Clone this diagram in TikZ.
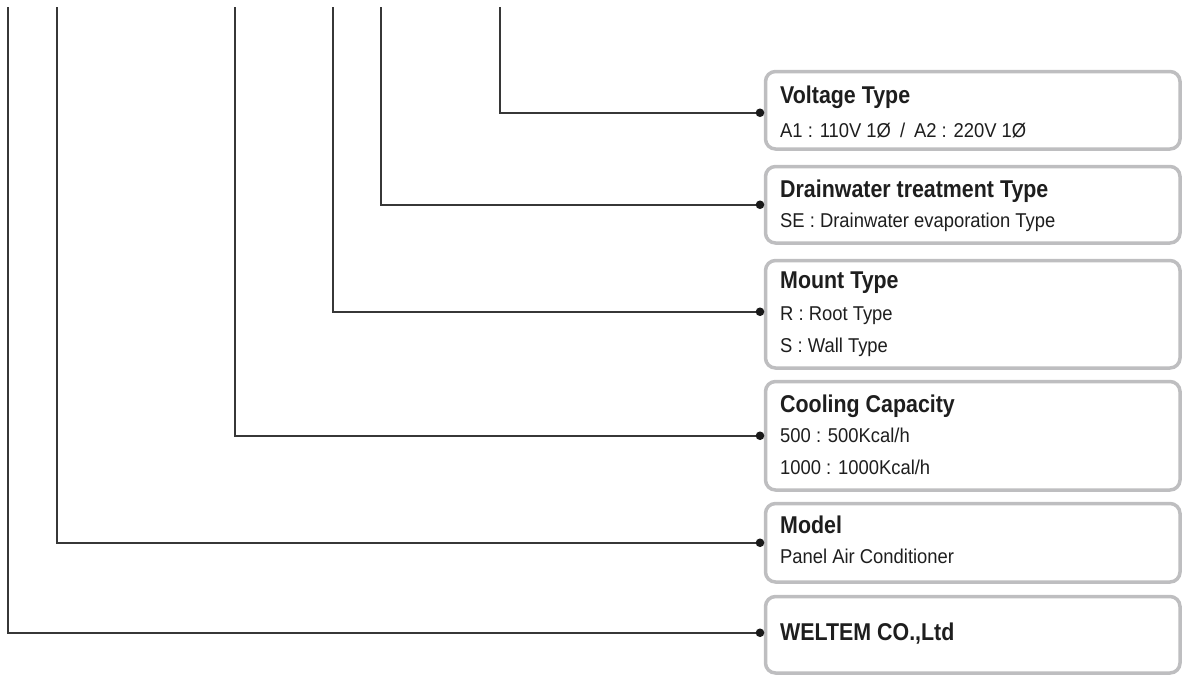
\documentclass[tikz,border=0pt]{standalone}
\usepackage{fontspec}
\setmainfont{Liberation Sans}
\newfontfamily\titlefont[FakeStretch=0.88]{Liberation Sans}
\newfontfamily\subfont[FakeStretch=0.92]{Liberation Sans}
\definecolor{boxgray}{RGB}{190,190,192}
\definecolor{linegray}{RGB}{55,55,55}
\definecolor{txt}{RGB}{30,30,30}
\tikzset{
  box/.style={draw=boxgray, line width=3.5pt, rounded corners=10pt, anchor=north west,
    minimum width=414.5pt, inner sep=0pt, fill=white},
  ttl/.style={anchor=base west, inner sep=0pt, text=txt, font=\titlefont\bfseries\fontsize{24.3}{28}\selectfont},
  sub/.style={anchor=base west, inner sep=0pt, text=txt, font=\subfont\fontsize{20}{24}\selectfont},
  conn/.style={draw=linegray, line width=1.6pt},
  dotc/.style={fill=black!90}
}
\begin{document}
\begin{tikzpicture}[x=1pt,y=-1pt]
\useasboundingbox (0,0) rectangle (1182,675);
% boxes
\node[box, minimum height=77.5pt] (b1) at (763.75,69.75) {};
\node[box, minimum height=76.5pt] (b2) at (763.75,164.75) {};
\node[box, minimum height=107.5pt] (b3) at (763.75,258.75) {};
\node[box, minimum height=108.5pt] (b4) at (763.75,379.75) {};
\node[box, minimum height=78.5pt] (b5) at (763.75,501.75) {};
\node[box, minimum height=76.5pt] (b6) at (763.75,594.75) {};
% texts
\node[ttl] (t1) at (780,103) {Voltage Type};
\node[sub] (s1) at (780,137) {A1 : 110V 1Ø\hspace{9pt}/\hspace{9pt}A2 : 220V 1Ø};
\node[ttl] (t2) at (780,197) {Drainwater treatment Type};
\node[sub] (s2) at (780,227) {SE : Drainwater evaporation Type};
\node[ttl] (t3) at (780,288) {Mount Type};
\node[sub] (s3a) at (780,320) {R : Root Type};
\node[sub] (s3b) at (780,352) {S : Wall Type};
\node[ttl] (t4) at (780,412) {Cooling Capacity};
\node[sub] (s4a) at (780,442) {500 : 500Kcal/h};
\node[sub] (s4b) at (780,474) {1000 : 1000Kcal/h};
\node[ttl] (t5) at (780,533) {Model};
\node[sub] (s5) at (780,563) {Panel Air Conditioner};
\node[ttl] (t6) at (780,640) {WELTEM CO.,Ltd};
% top ends of connectors
\coordinate (c1) at (500,7);
\coordinate (c2) at (381,7);
\coordinate (c3) at (333,7);
\coordinate (c4) at (235,7);
\coordinate (c5) at (57,7);
\coordinate (c6) at (8,7);
% dot positions
\coordinate (d1) at ([xshift=-3.75pt,yshift=-2.5pt]b1.west);
\coordinate (d2) at ([xshift=-3.75pt]b2.west);
\coordinate (d3) at ([xshift=-3.75pt,yshift=2.5pt]b3.west);
\coordinate (d4) at ([xshift=-3.75pt]b4.west);
\coordinate (d5) at ([xshift=-3.75pt]b5.west);
\coordinate (d6) at ([xshift=-3.75pt,yshift=2pt]b6.west);
\foreach \i in {1,...,6}{
  \draw[conn] (c\i) |- (d\i);
  \fill[dotc] (d\i) circle (4.3pt);
}
\end{tikzpicture}
\end{document}
